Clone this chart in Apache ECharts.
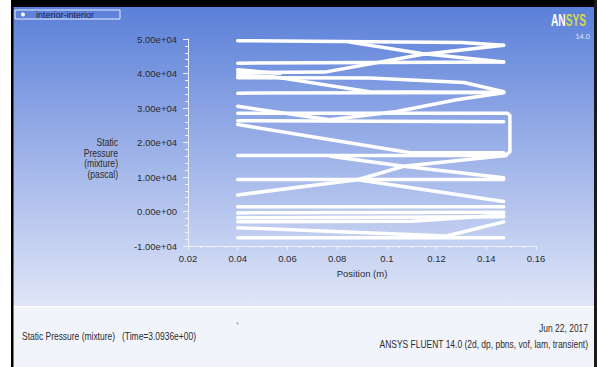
<!DOCTYPE html>
<html><head><meta charset="utf-8">
<script src="https://cdn.jsdelivr.net/npm/echarts/dist/echarts.min.js"></script>
<style>html,body{margin:0;padding:0;background:#fff}#c{width:597px;height:367px}</style>
</head><body><div id="c"></div>
<script>
// Axis settings
const xMin = 0.02, xMax = 0.16, xStep = 0.02;
const yMin = -10000, yMax = 50000, yStep = 10000;
const seriesName = 'interior-interior';

// Traced polylines: [position (m), static pressure (Pa)]
const trace1 = [[0.040,49500],[0.081,49300],[0.130,49000],[0.147,48200]];
const trace2 = [[0.085,49100],[0.114,45800],[0.147,43300]];
const trace3 = [[0.040,43000],[0.147,43300]];
const trace4 = [[0.040,40300],[0.075,40400],[0.114,45500],[0.147,48200]];
const trace5 = [[0.040,41100],[0.057,40000]];
const trace6 = [[0.040,39400],[0.054,39100],[0.093,34700],[0.147,34500]];
const trace7 = [[0.040,38800],[0.093,38700],[0.131,37400],[0.147,34700]];
const trace8 = [[0.040,34300],[0.147,34500]];
const trace9 = [[0.040,30500],[0.077,26600],[0.104,29000],[0.128,32400],[0.147,34400]];
const trace10 = [[0.040,28500],[0.1485,28500],[0.1495,27800],[0.1495,17300],[0.1475,16200],[0.040,16200]];
const trace11 = [[0.040,26300],[0.147,26000]];
const trace12 = [[0.040,25200],[0.0934,18900],[0.1095,17000],[0.147,17000]];
const trace13 = [[0.0773,16000],[0.1067,13100],[0.147,9800]];
const trace14 = [[0.040,4800],[0.0882,9200],[0.1067,13100],[0.148,16200]];
const trace15 = [[0.040,9300],[0.147,9300]];
const trace16 = [[0.0882,9200],[0.147,2900]];
const trace17 = [[0.040,1400],[0.147,1400]];
const trace18 = [[0.040,-400],[0.147,-200]];
const trace19 = [[0.040,-1800],[0.147,-1500]];
const trace20 = [[0.040,-3000],[0.110,-2800],[0.147,-1000]];
const trace21 = [[0.040,-4700],[0.124,-7100],[0.147,-3000]];
const trace22 = [[0.040,-7600],[0.147,-7600]];
const traces = [trace1,trace2,trace3,trace4,trace5,trace6,trace7,trace8,trace9,trace10,trace11,
  trace12,trace13,trace14,trace15,trace16,trace17,trace18,trace19,trace20,trace21,trace22];

const FONT = '"Liberation Sans",Arial,sans-serif';
const TXT = '#2c2c2c';

function sci(v){
  const s = v.toExponential(2);
  const parts = s.split('e');
  const sign = parts[1][0];
  const d = parts[1].slice(1).padStart(2,'0');
  return parts[0] + 'e' + sign + d;
}

const chart = echarts.init(document.getElementById('c'), null, {renderer:'svg'});
chart.setOption({
  animation:false,
  backgroundColor:'#ffffff',
  grid:{left:188, right:61, top:39, bottom:121},
  legend:{
    left:15, top:10, padding:[0,26,0,6], itemGap:0,
    borderColor:'#e6ecff', borderWidth:1,
    icon:'circle', itemWidth:4, itemHeight:4,
    textStyle:{color:'#1c2450', fontSize:9, fontFamily:FONT, lineHeight:9, padding:[0,0,0,6]},
    data:[{name:seriesName, itemStyle:{color:'#ffffff'}}]
  },
  xAxis:{
    type:'value', min:xMin, max:xMax, interval:xStep,
    name:'Position (m)', nameLocation:'middle', nameGap:22,
    nameTextStyle:{color:TXT, fontSize:9.5, fontFamily:FONT},
    axisLine:{show:true, onZero:false, lineStyle:{color:'#eef2ff', width:1}},
    axisTick:{show:true, length:4, lineStyle:{color:'#eef2ff'}},
    minorTick:{show:true, splitNumber:4, length:2, lineStyle:{color:'#eef2ff'}},
    splitLine:{show:false},
    axisLabel:{color:TXT, fontSize:9.5, fontFamily:FONT, margin:7,
      formatter:v=>String(parseFloat(v.toFixed(2)))}
  },
  yAxis:{
    type:'value', min:yMin, max:yMax, interval:yStep,
    axisLine:{show:true, onZero:false, lineStyle:{color:'#eef2ff', width:1}},
    axisTick:{show:true, length:5, lineStyle:{color:'#eef2ff'}},
    minorTick:{show:true, splitNumber:5, length:3, lineStyle:{color:'#eef2ff'}},
    splitLine:{show:false},
    axisLabel:{color:TXT, fontSize:9.5, fontFamily:FONT, margin:11, formatter:sci}
  },
  graphic:{elements:[
    {type:'rect', z:-100, silent:true, shape:{x:13,y:7,width:581,height:299},
      style:{fill:new echarts.graphic.LinearGradient(0,0,0,1,[
        {offset:0,color:'#5b80d9'},{offset:0.45,color:'#98aee7'},{offset:1,color:'#e0e6f7'}])}},
    {type:'rect', z:-100, silent:true, shape:{x:13,y:307,width:581,height:60}, style:{fill:'#f2f4fb'}},
    {type:'rect', z:-99, silent:true, shape:{x:13,y:306,width:581,height:1}, style:{fill:'#ffffff'}},
    {type:'rect', z:-99, silent:true, shape:{x:11,y:0,width:586,height:7}, style:{fill:'#000000'}},
    {type:'rect', z:-99, silent:true, shape:{x:11,y:0,width:2.5,height:367}, style:{fill:'#000000'}},
    {type:'rect', z:-99, silent:true, shape:{x:594,y:0,width:3,height:367}, style:{fill:'#1a1a1a'}},
    {type:'text', x:118, y:137, scaleX:0.78, style:{text:'Static\nPressure\n(mixture)\n(pascal)', align:'right',
      fill:TXT, font:'11px '+FONT, lineHeight:10.5}},
    {type:'text', x:551, y:11, scaleX:0.6, style:{text:'{a|AN}{b|SYS}', font:'bold 17px '+FONT,
      rich:{a:{fill:'#ffffff', font:'bold 17px '+FONT}, b:{fill:'#d9d64a', font:'bold 17px '+FONT}}}},
    {type:'text', x:590, y:32, style:{text:'14.0', align:'right', fill:'#dfe6fb', font:'7.5px '+FONT}},
    {type:'text', x:22, y:331, scaleX:0.77, style:{text:'Static Pressure (mixture)   (Time=3.0936e+00)', fill:TXT, font:'11px '+FONT}},
    {type:'text', x:588, y:323, scaleX:0.77, style:{text:'Jun 22, 2017', align:'right', fill:TXT, font:'11px '+FONT}},
    {type:'text', x:588, y:339, scaleX:0.77, style:{text:'ANSYS FLUENT 14.0 (2d, dp, pbns, vof, lam, transient)', align:'right', fill:TXT, font:'11px '+FONT}},
    {type:'circle', shape:{cx:237.5, cy:323.5, r:0.9}, style:{fill:'#8890b0'}}
  ]},
  series: traces.map(t=>({
    type:'line', name:seriesName, data:t, showSymbol:false, symbol:'none',
    lineStyle:{color:'#ffffff', width:3.5, join:'round', cap:'round'},
    itemStyle:{color:'#ffffff'}, z:3
  }))
});
</script></body></html>
